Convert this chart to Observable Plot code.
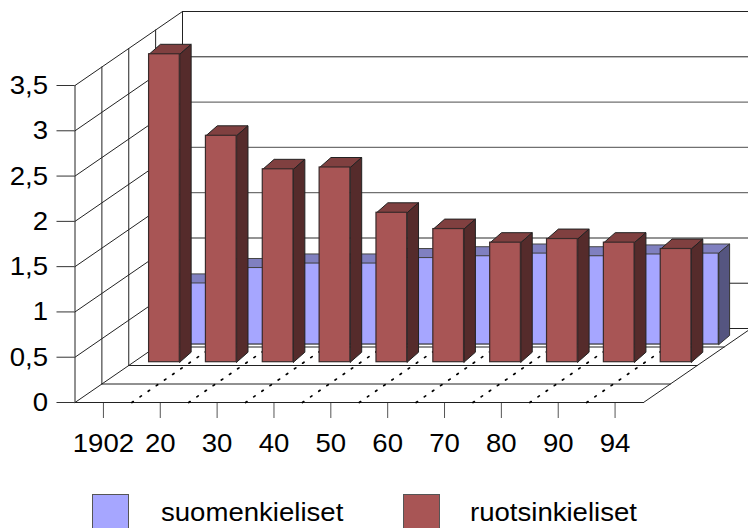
<!DOCTYPE html>
<html>
<head>
<meta charset="utf-8">
<script src="https://cdn.jsdelivr.net/npm/d3@7"></script>
<script src="https://cdn.jsdelivr.net/npm/@observablehq/plot@0.6"></script>
<style>
  html, body { margin: 0; padding: 0; background: #fff; overflow: hidden; }
  #chart { width: 748px; height: 528px; position: relative; overflow: hidden; font-family: "Liberation Sans", Arial, sans-serif; }
  .legend { position: absolute; left: 0; top: 484px; width: 748px; height: 44px; }
  .sw { position: absolute; top: 9.5px; width: 35px; height: 33px; border: 1px solid #555; box-sizing: content-box; }
  .lb { position: absolute; top: 13.5px; font-size: 26.5px; line-height: 29px; color: #000; transform: scaleX(1.04); transform-origin: left center; white-space: nowrap; }
</style>
</head>
<body>
<div id="chart"></div>
<script>
const categories = ["1902", "20", "30", "40", "50", "60", "70", "80", "90", "94"];
const suomenkieliset = [0.68, 0.85, 0.90, 0.90, 0.96, 0.98, 1.01, 0.98, 1.00, 1.01];
const ruotsinkieliset = [3.40, 2.50, 2.13, 2.15, 1.65, 1.47, 1.32, 1.36, 1.32, 1.25];
const yTicks = [0, 0.5, 1, 1.5, 2, 2.5, 3, 3.5];
const softGrid = [1, 1.5, 2, 2.5];
const depths = [0, 0.25, 0.5, 0.75, 1];

// oblique projection of the 3-D box, in axis units
const kx = 1.891, ky = 0.817;
const n = categories.length, xMax = 11.847, yMax = 4.4386, yTop = 3.5;

const seg = (id, x1, y1, x2, y2) => [{id, x: x1, y: y1}, {id, x: x2, y: y2}];
const frame = [], soft = [];
yTicks.forEach(v => {
  frame.push(...seg("l" + v, 0, v, kx, v + ky));
  (softGrid.includes(v) ? soft : frame).push(...seg("b" + v, kx, v + ky, n + kx, v + ky));
});
depths.forEach(d => {
  frame.push(...seg("v" + d, d * kx, d * ky, d * kx, yTop + d * ky));
  frame.push(...seg("f" + d, d * kx, d * ky, n + d * kx, d * ky));
});
frame.push(...seg("edge", n, 0, n + kx, ky));

const dotted = [];
for (let k = 1; k < n; k++) dotted.push(...seg("d" + k, k, 0, k + kx, ky));

function series(values, left, width, base, dx, dy) {
  const bars = values.map((v, i) => ({
    i, v, x1: i + left, x2: i + left + width, y1: base, y2: base + v
  }));
  const poly = (p, pts) => pts.map(([x, y]) => ({id: p, x, y}));
  const tops = bars.flatMap(b => poly(b.i, [[b.x1, b.y2], [b.x2, b.y2], [b.x2 + dx, b.y2 + dy], [b.x1 + dx, b.y2 + dy], [b.x1, b.y2]]));
  const sides = bars.flatMap(b => poly(b.i, [[b.x2, b.y1], [b.x2, b.y2], [b.x2 + dx, b.y2 + dy], [b.x2 + dx, b.y1 + dy], [b.x2, b.y1]]));
  return {bars, tops, sides};
}
const blue = series(suomenkieliset, 1.3245, 1, 0.64, 0.19, 0.1);
const red = series(ruotsinkieliset, 1.303, 0.54, 0.445, 0.2, 0.11);

const face = (data, fill, stroke = "#222") => Plot.line(data, {x: "x", y: "y", z: "id", fill, stroke, strokeWidth: 1, strokeLinejoin: "miter"});
const front = (s, fill, stroke) => Plot.rect(s.bars, {x1: "x1", x2: "x2", y1: "y1", y2: "y2", fill, stroke, strokeWidth: 1.2});

const svg = Plot.plot({
  width: 748,
  height: 484,
  marginLeft: 74.5,
  marginRight: 0,
  marginTop: 0,
  marginBottom: 82,
  style: {background: "#fff", overflow: "hidden", fontFamily: "'Liberation Sans', Arial, sans-serif", fontSize: "26.5px", color: "#000"},
  x: {domain: [0, xMax]},
  y: {domain: [0, yMax]},
  marks: [
    Plot.axisY({ticks: yTicks, tickSize: 18, tickPadding: 9, fontSize: 26.5, label: null, stroke: "#333", tickFormat: d => String(d).replace(".", ",")}),
    Plot.axisX({ticks: categories.map((_, i) => i + 0.5), tickSize: 16, tickPadding: 15, fontSize: 26.5, label: null, stroke: "#555", tickFormat: d => categories[Math.floor(d)]}),
    Plot.line(soft, {x: "x", y: "y", z: "id", stroke: "#707070", strokeWidth: 1.4}),
    Plot.line(frame, {x: "x", y: "y", z: "id", stroke: "#222", strokeWidth: 1}),
    Plot.line(dotted, {x: "x", y: "y", z: "id", stroke: "#000", strokeWidth: 1.7, strokeDasharray: "1.7 8.2"}),
    front(blue, "#a6a6ff", "#333"),
    face(blue.tops, "#8080c0", "#444"),
    face(blue.sides, "#555580", "#333"),
    face(red.tops, "#804040"),
    face(red.sides, "#552b2b"),
    front(red, "#a85555", "#3a2a2a")
  ]
});

const chart = document.getElementById("chart");
chart.appendChild(svg);
svg.querySelectorAll("text").forEach(t => {
  const len = t.getComputedTextLength();
  if (len > 0) {
    t.setAttribute("textLength", (len * 1.04).toFixed(2));
    t.setAttribute("lengthAdjust", "spacingAndGlyphs");
  }
});

const legend = document.createElement("div");
legend.className = "legend";
[["suomenkieliset", "#a6a6ff", 92, 161], ["ruotsinkieliset", "#a85555", 403, 470]].forEach(([name, color, sx, tx]) => {
  const s = document.createElement("div");
  s.className = "sw"; s.style.left = sx + "px"; s.style.background = color;
  const l = document.createElement("div");
  l.className = "lb"; l.style.left = tx + "px"; l.textContent = name;
  legend.append(s, l);
});
chart.appendChild(legend);
</script>
</body>
</html>
